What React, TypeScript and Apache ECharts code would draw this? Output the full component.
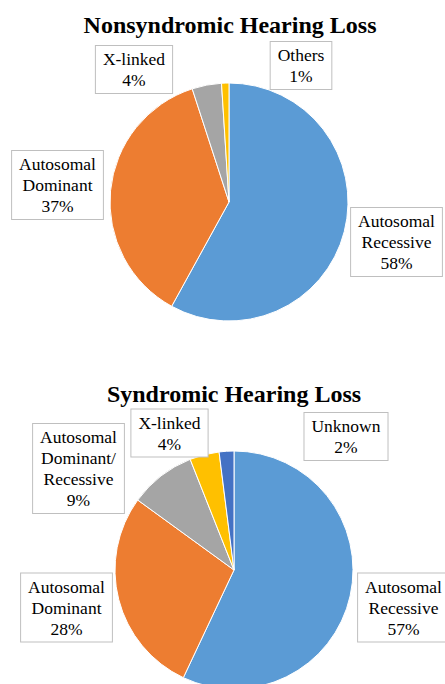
import React, { useEffect, useRef } from 'react';
import * as echarts from 'echarts';

const titles = ['Nonsyndromic Hearing Loss', 'Syndromic Hearing Loss'];

const nonsyndromicCategories = ['Autosomal\nRecessive', 'Autosomal\nDominant', 'X-linked', 'Others'];
const nonsyndromicValues = [58, 37, 4, 1];

const syndromicCategories = [
  'Autosomal\nRecessive',
  'Autosomal\nDominant',
  'Autosomal\nDominant/\nRecessive',
  'X-linked',
  'Unknown',
];
const syndromicValues = [57, 28, 9, 4, 2];

// layout (label box centers), not data
const topLabelPos = [
  [396.5, 242],
  [57.5, 185],
  [134, 69.5],
  [301, 65.5],
];
const bottomLabelPos = [
  [403.5, 607.5],
  [66.5, 607.5],
  [78.5, 468.5],
  [169.5, 433],
  [346, 436.5],
];

const topColors = ['#5b9bd5', '#ed7d31', '#a5a5a5', '#ffc000'];
const bottomColors = ['#5b9bd5', '#ed7d31', '#a5a5a5', '#ffc000', '#4472c4'];

const FONT = 'Liberation Serif';

function makeSeries(cats: string[], vals: number[], colors: string[], center: number[], pos: number[][]) {
  return {
    type: 'pie',
    center,
    radius: 119,
    startAngle: 90,
    clockwise: true,
    avoidLabelOverlap: false,
    data: cats.map((c, i) => ({ name: c, value: vals[i], itemStyle: { color: colors[i] } })),
    itemStyle: { borderColor: '#ffffff', borderWidth: 1 },
    label: {
      show: true,
      position: 'outside',
      formatter: (p: any) => `${p.name}\n${Math.round(p.percent)}%`,
      fontFamily: FONT,
      fontWeight: 'normal',
      fontSize: 17.5,
      lineHeight: 21,
      color: '#000',
      align: 'center',
      backgroundColor: '#ffffff',
      borderColor: '#bfbfbf',
      borderWidth: 1,
      padding: [3, 7, 2, 7],
    },
    labelLine: { show: false },
    labelLayout: (params: any) => {
      const p = pos[params.dataIndex];
      return { x: p[0], y: p[1], align: 'center', verticalAlign: 'middle' };
    },
    emphasis: { disabled: true },
  };
}

export default function App() {
  const ref = useRef<HTMLDivElement>(null);
  useEffect(() => {
    if (!ref.current) return;
    const chart = echarts.init(ref.current, undefined, { renderer: 'svg' });
    chart.setOption({
      animation: false,
      backgroundColor: '#ffffff',
      textStyle: { fontFamily: FONT },
      graphic: [
        {
          type: 'text',
          x: 230,
          y: 25,
          style: {
            text: titles[0],
            font: `bold 24px ${FONT}`,
            fill: '#000',
            textAlign: 'center',
            textVerticalAlign: 'middle',
          },
        },
        {
          type: 'text',
          x: 234,
          y: 394,
          style: {
            text: titles[1],
            font: `bold 24px ${FONT}`,
            fill: '#000',
            textAlign: 'center',
            textVerticalAlign: 'middle',
          },
        },
      ],
      series: [
        makeSeries(nonsyndromicCategories, nonsyndromicValues, topColors, [229, 202], topLabelPos),
        makeSeries(syndromicCategories, syndromicValues, bottomColors, [234, 570], bottomLabelPos),
      ],
    });
    return () => chart.dispose();
  }, []);
  return (
    <div
      ref={ref}
      style={{ position: 'absolute', left: 0, top: 0, width: 445, height: 684, background: '#fff' }}
    />
  );
}
